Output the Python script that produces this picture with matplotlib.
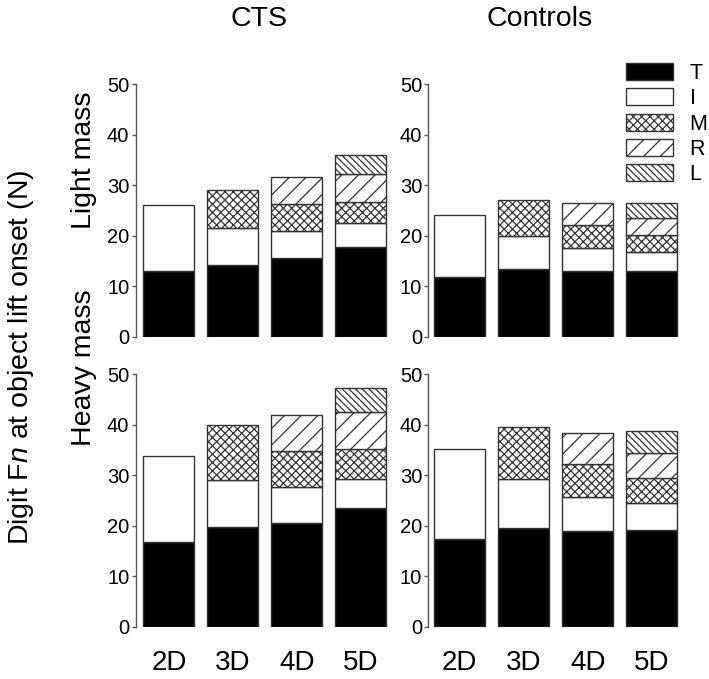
import matplotlib
matplotlib.use("Agg")
import matplotlib.pyplot as plt
import numpy as np
from matplotlib.patches import Patch

plt.rcParams['font.family'] = ['Liberation Sans', 'DejaVu Sans']
plt.rcParams['mathtext.fontset'] = 'custom'
plt.rcParams['mathtext.rm'] = 'Liberation Sans'
plt.rcParams['mathtext.it'] = 'Liberation Sans:italic'
plt.rcParams['hatch.linewidth'] = 0.9

digits = ["2D", "3D", "4D", "5D"]
components = ["T", "I", "M", "R", "L"]

# segment values (N), None = not present
light_cts = {
    "T": [13.0, 14.3, 15.5, 17.7],
    "I": [13.15, 7.2, 5.5, 4.8],
    "M": [None, 7.6, 5.2, 4.1],
    "R": [None, None, 5.4, 5.6],
    "L": [None, None, None, 3.8],
}
light_ctrl = {
    "T": [11.9, 13.4, 13.1, 13.1],
    "I": [12.3, 6.55, 4.5, 3.6],
    "M": [None, 7.15, 4.6, 3.4],
    "R": [None, None, 4.2, 3.4],
    "L": [None, None, None, 3.05],
}
heavy_cts = {
    "T": [16.8, 19.7, 20.6, 23.4],
    "I": [17.0, 9.4, 7.0, 5.9],
    "M": [None, 10.75, 7.1, 5.9],
    "R": [None, None, 7.1, 7.3],
    "L": [None, None, None, 4.8],
}
heavy_ctrl = {
    "T": [17.4, 19.6, 18.9, 19.1],
    "I": [17.7, 9.6, 6.8, 5.4],
    "M": [None, 10.3, 6.4, 4.9],
    "R": [None, None, 6.2, 5.0],
    "L": [None, None, None, 4.4],
}

styles = {
    "T": dict(facecolor="black", hatch=None),
    "I": dict(facecolor="white", hatch=None),
    "M": dict(facecolor="white", hatch="xxxx"),
    "R": dict(facecolor="white", hatch="//"),
    "L": dict(facecolor="white", hatch="\\" * 5),
}
edge = "#333333"
spine_col = "#555555"

W, H = 709, 679
fig = plt.figure(figsize=(W / 100, H / 100), dpi=100)

def fx(px):
    return px / W

def fy(py):
    return 1 - py / H

ax_w_px = 254
panels = [
    (light_cts, 135.6, 84.3, 336.7, -0.52, False),
    (light_ctrl, 428.4, 84.3, 336.7, -0.49, False),
    (heavy_cts, 135.6, 374.0, 626.7, -0.52, True),
    (heavy_ctrl, 428.4, 374.0, 626.7, -0.49, True),
]
for data, left, top, bottom, xmin, show_x in panels:
    ax = fig.add_axes([fx(left), fy(bottom), fx(ax_w_px), (bottom - top) / H])
    x = np.arange(len(digits))
    base = np.zeros(len(digits))
    for comp in components:
        vals = data[comp]
        for i, v in enumerate(vals):
            if v is None:
                continue
            st = styles[comp]
            ax.bar(x[i], v, bottom=base[i], width=0.8, facecolor=st["facecolor"],
                   hatch=st["hatch"], edgecolor=edge, linewidth=1.0)
            base[i] += v
    ax.set_ylim(0, 50)
    ax.set_xlim(xmin, xmin + ax_w_px / 64.0)
    ax.set_yticks([0, 10, 20, 30, 40, 50])
    ax.tick_params(axis='y', labelsize=14.5, length=3, width=1, color=spine_col, pad=1.5)
    for s in ("top", "right", "bottom"):
        ax.spines[s].set_visible(False)
    ax.spines["left"].set_color(spine_col)
    ax.spines["left"].set_linewidth(1)
    if show_x:
        ax.set_xticks(x)
        ax.set_xticklabels(digits)
        ax.tick_params(axis='x', length=0, labelsize=20, pad=17)
    else:
        ax.set_xticks([])

# legend
handles = [Patch(facecolor=styles[c]["facecolor"], hatch=styles[c]["hatch"],
                 edgecolor=edge, linewidth=1.0) for c in components]
fig.legend(handles, components, loc="upper left",
           bbox_to_anchor=(fx(626), fy(63)), frameon=False, fontsize=15.5,
           handlelength=2.2, handleheight=0.82, labelspacing=0.2,
           handletextpad=0.75, borderpad=0, borderaxespad=0)

fig.text(fx(259), fy(19), "CTS", fontsize=20.5, ha="center", va="center")
fig.text(fx(540), fy(19), "Controls", fontsize=20.5, ha="center", va="center")
fig.text(fx(84), fy(160), "Light mass", fontsize=20.5, rotation=90, ha="center", va="center")
fig.text(fx(84), fy(368), "Heavy mass", fontsize=20.5, rotation=90, ha="center", va="center")
fig.text(fx(21), fy(357), r"Digit F$\mathit{n}$ at object lift onset (N)", fontsize=20.5,
         rotation=90, ha="center", va="center")

fig.savefig("out.png", dpi=100)
